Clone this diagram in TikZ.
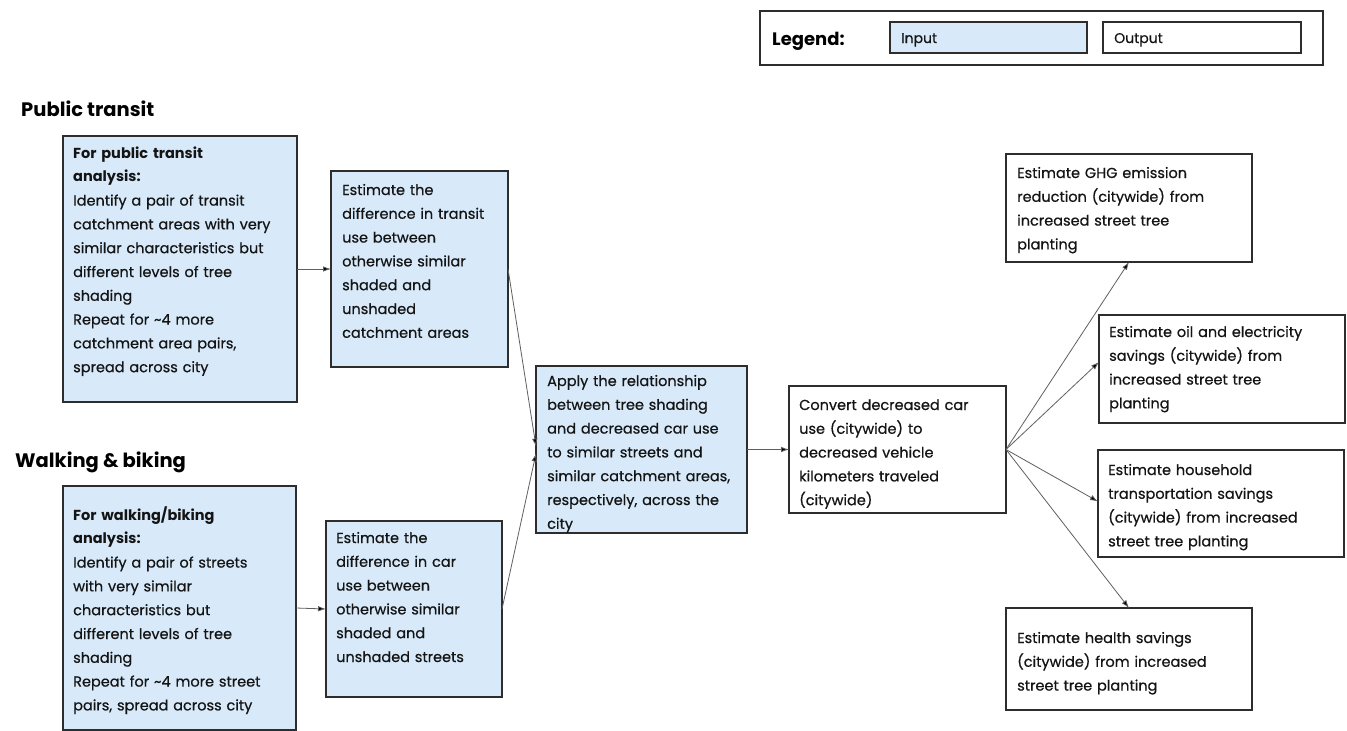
\documentclass[tikz,border=0pt]{standalone}
\usepackage{fontspec}
\setmainfont{Poppins}[UprightFeatures={FakeBold=0.6}]
\usetikzlibrary{arrows.meta,calc}
\definecolor{inblue}{RGB}{216,234,250}
\definecolor{edgec}{RGB}{45,45,45}
\definecolor{connc}{RGB}{95,95,95}
\definecolor{txtc}{RGB}{20,20,20}
\begin{document}
\begin{tikzpicture}[x=1pt,y=-1pt,
 box/.style={draw=edgec,line width=1.3pt,anchor=north west,inner sep=0pt,outer sep=0pt},
 inbox/.style={box,fill=inblue},
 outbox/.style={box,fill=white},
 txt/.style={anchor=base west,inner sep=0pt,text width=260pt,align=left,text=txtc,font=\fontsize{14.5}{23.8}\selectfont},
 legtxt/.style={txt,font=\fontsize{14}{16}\selectfont},
 head/.style={anchor=base west,inner sep=0pt,text=black,font=\bfseries\fontsize{19.5}{22}\selectfont},
 conn/.style={draw=connc,line width=0.8pt,-{Latex[length=8pt,width=5.5pt,fill=black]}}
]
\useasboundingbox (0,0) rectangle (1347,731);
\fill[white] (0,0) rectangle (1347,731);

% legend
\node[outbox,minimum width=563pt,minimum height=54pt] (leg) at (760,11) {};
\node[head,font=\bfseries\fontsize{18}{20}\selectfont] (legt) at (772,45) {Legend:};
\node[inbox,minimum width=197pt,minimum height=31pt] (legin) at (890,22) {};
\node[legtxt] (legint) at (901,43) {Input};
\node[outbox,minimum width=198pt,minimum height=31pt] (legout) at (1103,22) {};
\node[legtxt] (legoutt) at (1114,43) {Output};

% headings
\node[head] (h1) at (21,116) {Public transit};
\node[head] (h2) at (15,467) {Walking \& biking};

% boxes
\node[inbox,minimum width=234pt,minimum height=266pt] (a1) at (63,136) {};
\node[txt] (a1t) at (73,158) {\textbf{For public transit}\\\textbf{analysis:}\\Identify a pair of transit\\catchment areas with very\\similar characteristics but\\different levels of tree\\shading\\Repeat for \textasciitilde4 more\\catchment area pairs,\\spread across city};

\node[inbox,minimum width=177pt,minimum height=196pt] (a2) at (331,171) {};
\node[txt] (a2t) at (342,195) {Estimate the\\difference in transit\\use between\\otherwise similar\\shaded and\\unshaded\\catchment areas};

\node[inbox,minimum width=233pt,minimum height=244pt] (b1) at (63,486) {};
\node[txt] (b1t) at (73,520) {\textbf{For walking/biking}\\\textbf{analysis:}\\Identify a pair of streets\\with very similar\\characteristics but\\different levels of tree\\shading\\Repeat for \textasciitilde4 more street\\pairs, spread across city};

\node[inbox,minimum width=176pt,minimum height=176pt] (b2) at (326,521) {};
\node[txt] (b2t) at (336,543) {Estimate the\\difference in car\\use between\\otherwise similar\\shaded and\\unshaded streets};

\node[inbox,minimum width=211pt,minimum height=167pt] (c) at (536,366) {};
\node[txt] (ct) at (547,386) {Apply the relationship\\between tree shading\\and decreased car use\\to similar streets and\\similar catchment areas,\\respectively, across the\\city};

\node[outbox,minimum width=217pt,minimum height=127pt] (d) at (789,386) {};
\node[txt] (dt) at (799,410) {Convert decreased car\\use (citywide) to\\decreased vehicle\\kilometers traveled\\(citywide)};

\node[outbox,minimum width=246pt,minimum height=108pt] (e1) at (1006,154) {};
\node[txt] (e1t) at (1017,178) {Estimate GHG emission\\reduction (citywide) from\\increased street tree\\planting};

\node[outbox,minimum width=246pt,minimum height=108pt] (e2) at (1099,315) {};
\node[txt] (e2t) at (1109,337) {Estimate oil and electricity\\savings (citywide) from\\increased street tree\\planting};

\node[outbox,minimum width=246pt,minimum height=107pt] (e3) at (1098,450) {};
\node[txt] (e3t) at (1108,475) {Estimate household\\transportation savings\\(citywide) from increased\\street tree planting};

\node[outbox,minimum width=246pt,minimum height=102pt] (e4) at (1006,608) {};
\node[txt] (e4t) at (1017,643) {Estimate health savings\\(citywide) from increased\\street tree planting};

% connectors
\draw[conn] (a1.east) -- (a2.west);
\draw[conn] (b1.east) -- (b2.west);
\draw[conn] (a2.east) -- ($(c.west)+(0,-3)$);
\draw[conn] (b2.east) -- ($(c.west)+(0,4)$);
\draw[conn] (c.east) -- (d.west);
\draw[conn] (d.east) -- (e1.south);
\draw[conn] (d.east) -- ($(e2.west)+(0,-7)$);
\draw[conn] (d.east) -- ($(e3.west)+(0,-2)$);
\draw[conn] (d.east) -- (e4.north);
\end{tikzpicture}
\end{document}
